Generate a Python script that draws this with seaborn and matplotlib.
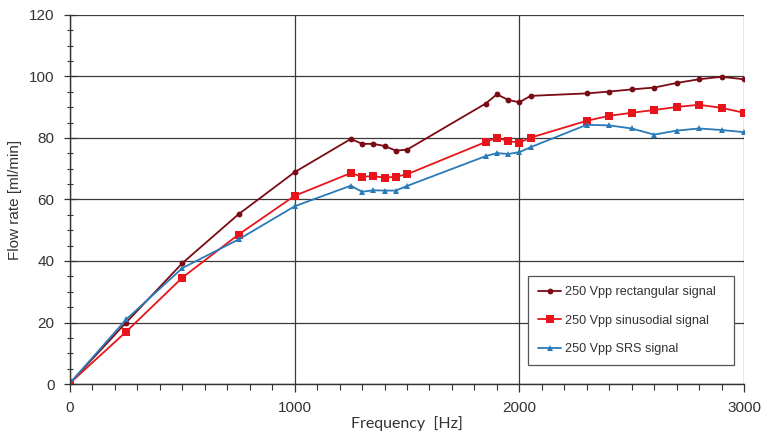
import numpy as np
import pandas as pd
import seaborn as sns
import matplotlib.pyplot as plt
from matplotlib.ticker import MultipleLocator

# frequency points [Hz]
freq = [0, 250, 500, 750, 1000, 1250, 1300, 1350, 1400, 1450, 1500,
        1850, 1900, 1950, 2000, 2050, 2300, 2400, 2500, 2600, 2700, 2800, 2900, 3000]

# flow rate [ml/min]
rect_flow = [0.3, 20, 39.3, 55.2, 68.9, 79.7, 78.1, 78.1, 77.4, 75.9, 76.2,
             91.2, 94.2, 92.4, 91.6, 93.7, 94.5, 95.1, 95.8, 96.4, 97.9, 99.1, 99.9, 99.1]
sin_flow = [0.3, 17, 34.6, 48.6, 61.2, 68.6, 67.4, 67.6, 67.1, 67.4, 68.2,
            78.7, 80.1, 79.0, 78.5, 80.1, 85.6, 87.2, 88.2, 89.1, 90.1, 90.8, 89.8, 88.2]
srs_flow = [0.3, 21, 37.7, 47.0, 57.8, 64.5, 62.5, 63.0, 62.9, 62.9, 64.4,
            74.1, 75.1, 74.8, 75.4, 77.0, 84.3, 84.1, 83.1, 81.1, 82.4, 83.1, 82.6, 81.9]

labels = ["250 Vpp rectangular signal", "250 Vpp sinusodial signal", "250 Vpp SRS signal"]
colors = ["#7a0a14", "#e8141b", "#2a7ab8"]
markers = ["o", "s", "^"]
msizes = [4.2, 5.2, 4.8]

sns.set_style("white")
plt.rcParams["font.family"] = ["Liberation Sans", "DejaVu Sans"]

fig = plt.figure(figsize=(7.64, 4.34), dpi=100)
ax = fig.add_axes([70 / 764, 50 / 434, 674 / 764, 369 / 434])

for vals, lab, col, mk, ms in zip([rect_flow, sin_flow, srs_flow], labels, colors, markers, msizes):
    df = pd.DataFrame({"freq": freq, "flow": vals})
    sns.lineplot(data=df, x="freq", y="flow", ax=ax, color=col, marker=mk,
                 markersize=ms, markeredgewidth=0, linewidth=1.3, label=lab)

ax.set_xlim(0, 3000)
ax.set_ylim(0, 120)
ax.xaxis.set_major_locator(MultipleLocator(1000))
ax.xaxis.set_minor_locator(MultipleLocator(100))
ax.yaxis.set_major_locator(MultipleLocator(20))
ax.yaxis.set_minor_locator(MultipleLocator(5))
ax.grid(True, which="major", color="#3a3a3a", linewidth=0.9)
ax.set_axisbelow(True)

for s in ["top", "right"]:
    ax.spines[s].set_visible(False)
for s in ["left", "bottom"]:
    ax.spines[s].set_color("#333333")
    ax.spines[s].set_linewidth(1.0)

ax.tick_params(axis="x", which="major", direction="out", length=6, width=0.9,
               color="#333333", pad=6, labelsize=11, labelcolor="#333333")
ax.tick_params(axis="x", which="minor", direction="out", length=4, width=0.8, color="#333333")
ax.tick_params(axis="y", which="major", direction="inout", length=8, width=0.9,
               color="#333333", pad=7, labelsize=11, labelcolor="#333333")
ax.tick_params(axis="y", which="minor", direction="inout", length=5, width=0.8, color="#333333")
ax.xaxis.set_ticks_position("bottom")
ax.yaxis.set_ticks_position("left")

ax.set_xlabel("Frequency  [Hz]", fontsize=11.5, color="#333333", family=["Lato", "DejaVu Sans"], labelpad=1)
ax.set_ylabel("Flow rate [ml/min]", fontsize=11, color="#333333", labelpad=5)

leg = ax.legend(loc="lower left", bbox_to_anchor=(0.68, 0.051, 0.305, 0.247), mode="expand",
                frameon=True, fancybox=False, edgecolor="#555555", framealpha=1,
                handlelength=1.8, handletextpad=0.3, labelspacing=1.3,
                borderaxespad=0, borderpad=0.8, prop={"family": ["Liberation Sans Narrow", "Liberation Sans"], "size": 9.1})
leg.get_frame().set_linewidth(0.9)
for t in leg.get_texts():
    t.set_color("#333333")

fig.savefig("out.png", dpi=100)
